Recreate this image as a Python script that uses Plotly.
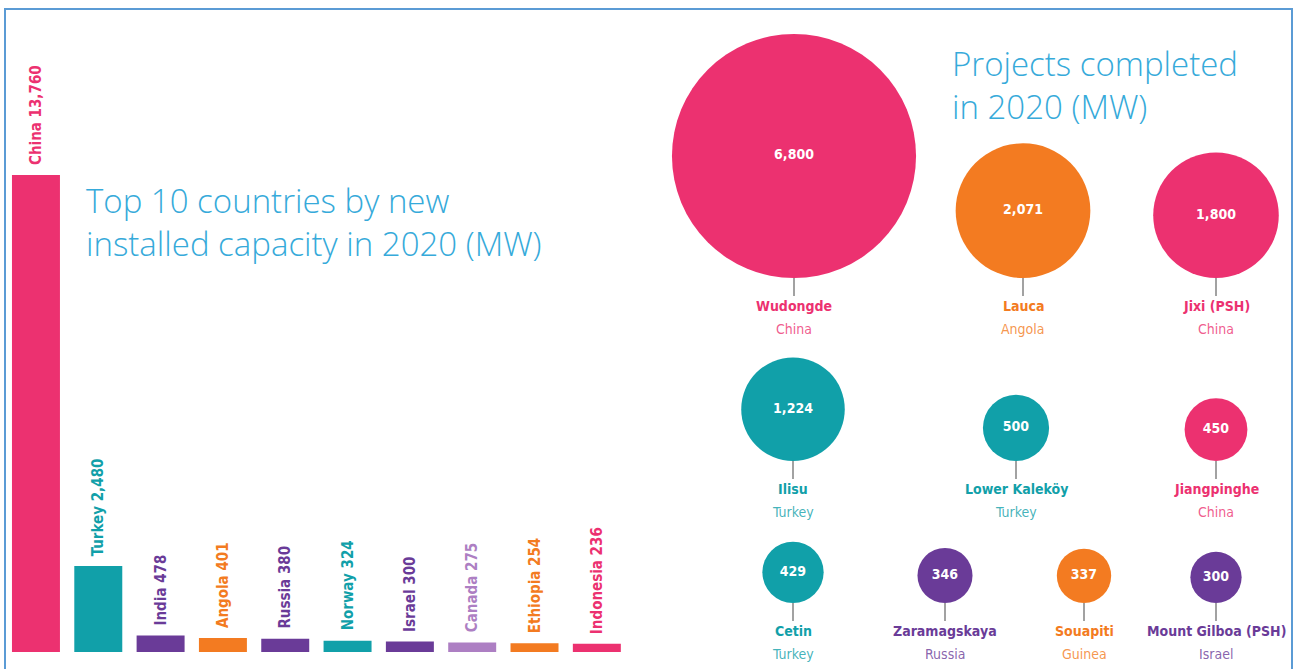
import math
import plotly.graph_objects as go

# ---------------- data ----------------
countries = ["China", "Turkey", "India", "Angola", "Russia", "Norway", "Israel",
             "Canada", "Ethiopia", "Indonesia"]
capacity_mw = [13760, 2480, 478, 401, 380, 324, 300, 275, 254, 236]

projects = ["Wudongde", "Lauca", "Jixi (PSH)", "Ilisu", "Lower Kaleköy", "Jiangpinghe",
            "Cetin", "Zaramagskaya", "Souapiti", "Mount Gilboa (PSH)"]
project_country = ["China", "Angola", "China", "Turkey", "Turkey", "China",
                   "Turkey", "Russia", "Guinea", "Israel"]
project_mw = [6800, 2071, 1800, 1224, 500, 450, 429, 346, 337, 300]

# ---------------- styles / layout ----------------
PINK = "#EC3170"
TEAL = "#11A0A9"
PURPLE = "#6A3B98"
ORANGE = "#F37B21"
LILAC = "#AD7FC3"
TITLE_BLUE = "#36AADA"
country_color = {"China": PINK, "Turkey": TEAL, "India": PURPLE, "Angola": ORANGE,
                 "Russia": PURPLE, "Norway": TEAL, "Israel": PURPLE, "Canada": LILAC,
                 "Ethiopia": ORANGE, "Indonesia": PINK, "Guinea": ORANGE}


def faded(hex_color, alpha):
    h = hex_color.lstrip("#")
    r, g, b = (int(h[i:i + 2], 16) for i in (0, 2, 4))
    return f"rgba({r},{g},{b},{alpha})"


W, H = 1296, 669
NARROW = "Liberation Sans Narrow, DejaVu Sans Condensed, sans-serif"
LIGHT = "Open Sans, Lato, sans-serif"

# bubble grid layout (pixel space): rows with baselines and column centres
row_of = [0, 0, 0, 1, 1, 1, 2, 2, 2, 2]
row_base = [278, 461, 603]
col_x = [794, 1023, 1216, 793, 1016, 1216, 793, 945, 1084, 1216]
RADIUS_K = 1.48  # px radius per sqrt(MW)

fig = go.Figure()

# ---------------- bar chart ----------------
fig.add_trace(go.Bar(
    x=countries, y=capacity_mw,
    marker=dict(color=[country_color[c] for c in countries], line=dict(width=0)),
    width=0.77, cliponaxis=False, hoverinfo="x+y",
    xaxis="x", yaxis="y",
))

bar_bottom_px, bar_top_px = 652, 40
china_px = 477
y_max = capacity_mw[0] * (bar_bottom_px - bar_top_px) / china_px

annotations = []
for c, v in zip(countries, capacity_mw):
    annotations.append(dict(xref="x", yref="y", x=c, y=v, text=f"<b>{c} {v:,}</b>",
                            textangle=-90, showarrow=False, xanchor="center",
                            yanchor="bottom", yshift=8,
                            font=dict(family=NARROW, size=15, color=country_color[c])))

# ---------------- bubble chart ----------------
radii = [RADIUS_K * math.sqrt(v) for v in project_mw]
cy = [row_base[r] - rad for r, rad in zip(row_of, radii)]
fig.add_trace(go.Scatter(
    x=col_x, y=cy, mode="markers+text",
    marker=dict(size=[2 * r for r in radii], sizemode="diameter",
                color=[country_color[c] for c in project_country], line=dict(width=0),
                opacity=1),
    text=[f"{v:,}" for v in project_mw], textposition="middle center",
    textfont=dict(family=NARROW, size=14, color="white", weight="bold"),
    hovertext=projects, hoverinfo="text",
    xaxis="x2", yaxis="y2", cliponaxis=False,
))

shapes = []
for name, ctry, x, r in zip(projects, project_country, col_x, row_of):
    col = country_color[ctry]
    base = row_base[r]
    shapes.append(dict(type="line", xref="x2", yref="y2", x0=x, x1=x, y0=base,
                       y1=base + 18, line=dict(color="rgba(90,90,90,0.75)", width=1.5)))
    annotations.append(dict(xref="x2", yref="y2", x=x, y=base + 28, text=f"<b>{name}</b>",
                            showarrow=False, xanchor="center", yanchor="middle",
                            font=dict(family=NARROW, size=14, color=col)))
    annotations.append(dict(xref="x2", yref="y2", x=x, y=base + 51, text=ctry,
                            showarrow=False, xanchor="center", yanchor="middle",
                            font=dict(family=NARROW, size=14, color=faded(col, 0.8))))

# titles
for txt, x, y in [("Top 10 countries by new<br>installed capacity in 2020 (MW)", 84, 222),
                  ("Projects completed<br>in 2020 (MW)", 950, 85)]:
    annotations.append(dict(xref="x2", yref="y2", x=x, y=y, text=txt, showarrow=False,
                            xanchor="left", yanchor="middle", align="left",
                            font=dict(family=LIGHT, size=33, color=TITLE_BLUE, weight=300)))

# frame
shapes.append(dict(type="rect", xref="x2", yref="y2", x0=5, x1=1292, y0=9, y1=675,
                   line=dict(color="#5B9BD5", width=2), fillcolor="rgba(0,0,0,0)",
                   layer="above"))

x_left, x_right = 4.8, 628
fig.update_layout(
    width=W, height=H, margin=dict(l=0, r=0, t=0, b=0),
    paper_bgcolor="white", plot_bgcolor="rgba(0,0,0,0)", showlegend=False,
    xaxis=dict(domain=[x_left / W, x_right / W], visible=False, type="category"),
    yaxis=dict(domain=[(H - bar_bottom_px) / H, (H - bar_top_px) / H],
               range=[0, y_max], visible=False),
    xaxis2=dict(domain=[0, 1], range=[0, W], visible=False, anchor="y2"),
    yaxis2=dict(domain=[0, 1], range=[H, 0], visible=False, anchor="x2"),
    shapes=shapes, annotations=annotations,
)

fig.write_html("out.html", config={"displayModeBar": False},
               post_script="document.body.style.margin='0px';document.body.style.overflow='hidden';")
